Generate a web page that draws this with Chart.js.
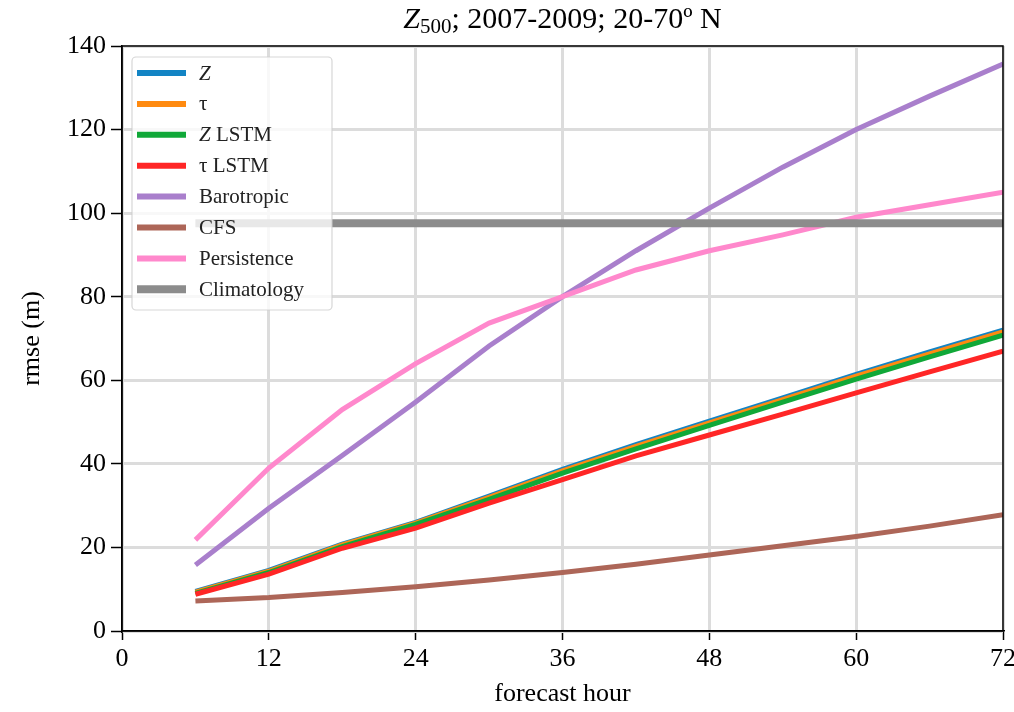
<!DOCTYPE html>
<html>
<head>
<meta charset="utf-8">
<script src="https://cdn.jsdelivr.net/npm/chart.js@4/dist/chart.umd.min.js"></script>
<style>
  html, body { margin: 0; padding: 0; background: #fff; }
  #wrap { width: 1014px; height: 712px; }
</style>
</head>
<body>
<div id="wrap"><canvas id="myChart" width="1014" height="712"></canvas></div>
<script>
// forecast hours and rmse values (m)
const hours = [6, 12, 18, 24, 30, 36, 42, 48, 54, 60, 66, 72];
const zVals = [9.5, 14.5, 20.8, 26.0, 32.3, 38.7, 44.6, 50.2, 55.8, 61.4, 66.8, 72.0];
const tauVals = [9.3, 14.3, 20.6, 25.8, 32.0, 38.3, 44.2, 49.8, 55.4, 61.0, 66.3, 71.6];
const zLstmVals = [9.0, 14.0, 20.2, 25.5, 31.5, 37.8, 43.6, 49.2, 54.8, 60.3, 65.6, 70.8];
const tauLstmVals = [8.8, 13.6, 19.8, 24.6, 30.6, 36.2, 41.9, 46.9, 51.9, 57.0, 62.0, 67.0];
const barotropicVals = [15.8, 29.4, 42.0, 54.8, 68.2, 80.0, 91.0, 101.2, 111.0, 120.0, 128.0, 135.7];
const cfsVals = [7.2, 8.0, 9.2, 10.6, 12.2, 14.0, 16.0, 18.2, 20.4, 22.6, 25.1, 27.8];
const persistenceVals = [21.8, 39.0, 53.0, 64.0, 73.7, 80.0, 86.4, 91.0, 94.8, 99.0, 102.0, 105.0];
const climatologyVals = [97.6, 97.6, 97.6, 97.6, 97.6, 97.6, 97.6, 97.6, 97.6, 97.6, 97.6, 97.6];

const xTicks = [0, 12, 24, 36, 48, 60, 72];
const yTicks = [0, 20, 40, 60, 80, 100, 120, 140];

const seriesNames = ['Z', 'τ', 'Z LSTM', 'τ LSTM', 'Barotropic', 'CFS', 'Persistence', 'Climatology'];
const seriesVals = [zVals, tauVals, zLstmVals, tauLstmVals, barotropicVals, cfsVals, persistenceVals, climatologyVals];
const seriesColors = ['#1384c4', '#ff8a10', '#10a838', '#ff2626', '#a97fcc', '#ad6658', '#ff88cc', '#8c8c8c'];
const seriesWidths = [5, 5, 5, 5, 5, 5, 5, 8];

const FONT = "'Liberation Serif', 'DejaVu Serif', serif";

function toPoints(vals) {
    return vals.map((v, i) => ({ x: hours[i], y: v }));
}

// draw the plain text with the letter Z in italics
function drawMixed(ctx, text, x, y, size) {
    let cx = x;
    for (const part of text.split(/(Z)/)) {
        if (!part) continue;
        ctx.font = (part === 'Z' ? 'italic ' : '') + size + 'px ' + FONT;
        ctx.fillText(part, cx, y);
        cx += ctx.measureText(part).width;
    }
    return cx;
}

const decorPlugin = {
    id: 'decor',
    afterDraw(chart) {
        const ctx = chart.ctx;
        const a = chart.chartArea;
        ctx.save();
        // frame on top and right
        ctx.strokeStyle = '#000';
        ctx.lineWidth = 1.5;
        ctx.strokeRect(a.left, a.top, a.right - a.left, a.bottom - a.top);

        // title with subscript
        ctx.fillStyle = '#000';
        ctx.textBaseline = 'alphabetic';
        const size = 30;
        const parts = [
            { t: 'Z', f: 'italic ' + size + 'px ' + FONT, dy: 0 },
            { t: '500', f: Math.round(size * 0.7) + 'px ' + FONT, dy: 5 },
            { t: '; 2007-2009; 20-70º N', f: size + 'px ' + FONT, dy: 0 }
        ];
        let total = 0;
        parts.forEach(p => { ctx.font = p.f; p.w = ctx.measureText(p.t).width; total += p.w; });
        let tx = (a.left + a.right) / 2 - total / 2;
        parts.forEach(p => { ctx.font = p.f; ctx.fillText(p.t, tx, 28 + p.dy); tx += p.w; });

        // legend inside the axes, upper left
        const lx = 132, ly = 57, lw = 200, lh = 253;
        ctx.fillStyle = 'rgba(255,255,255,0.8)';
        ctx.strokeStyle = 'rgba(204,204,204,0.8)';
        ctx.lineWidth = 1.2;
        ctx.beginPath();
        ctx.roundRect(lx, ly, lw, lh, 4);
        ctx.fill();
        ctx.stroke();
        chart.data.datasets.forEach((ds, i) => {
            const cy = 73 + i * 30.9;
            ctx.strokeStyle = ds.borderColor;
            ctx.lineWidth = Math.max(ds.borderWidth, 6);
            ctx.lineCap = 'butt';
            ctx.beginPath();
            ctx.moveTo(137, cy);
            ctx.lineTo(186, cy);
            ctx.stroke();
            ctx.fillStyle = '#222';
            ctx.textBaseline = 'middle';
            drawMixed(ctx, ds.label, 199, cy + 1, 21);
        });
        ctx.restore();
    }
};

const ctx = document.getElementById('myChart').getContext('2d');
window.myChart = new Chart(ctx, {
    type: 'line',
    data: {
        datasets: seriesNames.map((name, i) => ({
            label: name,
            data: toPoints(seriesVals[i]),
            borderColor: seriesColors[i],
            backgroundColor: seriesColors[i],
            borderWidth: seriesWidths[i],
            pointRadius: 0,
            tension: 0,
            fill: false,
            order: 8 - i
        }))
    },
    options: {
        responsive: false,
        animation: false,
        layout: { padding: { top: 46, right: 11, left: 0, bottom: 0 } },
        plugins: {
            legend: { display: false },
            title: { display: false },
            tooltip: { enabled: false }
        },
        scales: {
            x: {
                type: 'linear',
                min: 0,
                max: 72,
                afterBuildTicks: s => { s.ticks = xTicks.map(v => ({ value: v })); },
                afterFit: s => { s.height = 81; s.paddingLeft = 0; s.paddingRight = 0; },
                grid: { color: '#dcdcdc', lineWidth: 3, tickColor: '#000', tickLength: 9, tickWidth: 1.5 },
                border: { color: '#000', width: 1.5 },
                ticks: { color: '#000', font: { family: FONT, size: 26 }, padding: 4, maxRotation: 0 },
                title: { display: true, text: 'forecast hour', color: '#000', font: { family: FONT, size: 26 }, padding: { top: 0, bottom: 2 } }
            },
            y: {
                min: 0,
                max: 140,
                afterBuildTicks: s => { s.ticks = yTicks.map(v => ({ value: v })); },
                afterFit: s => { s.width = 122; s.paddingTop = 0; s.paddingBottom = 0; },
                grid: { color: '#dcdcdc', lineWidth: 3, tickColor: '#000', tickLength: 11, tickWidth: 1.5 },
                border: { color: '#000', width: 1.5 },
                ticks: { color: '#000', font: { family: FONT, size: 26 }, padding: 5 },
                title: { display: true, text: 'rmse (m)', color: '#000', font: { family: FONT, size: 26 }, padding: { top: 17, bottom: 0 } }
            }
        }
    },
    plugins: [decorPlugin]
});
</script>
</body>
</html>
